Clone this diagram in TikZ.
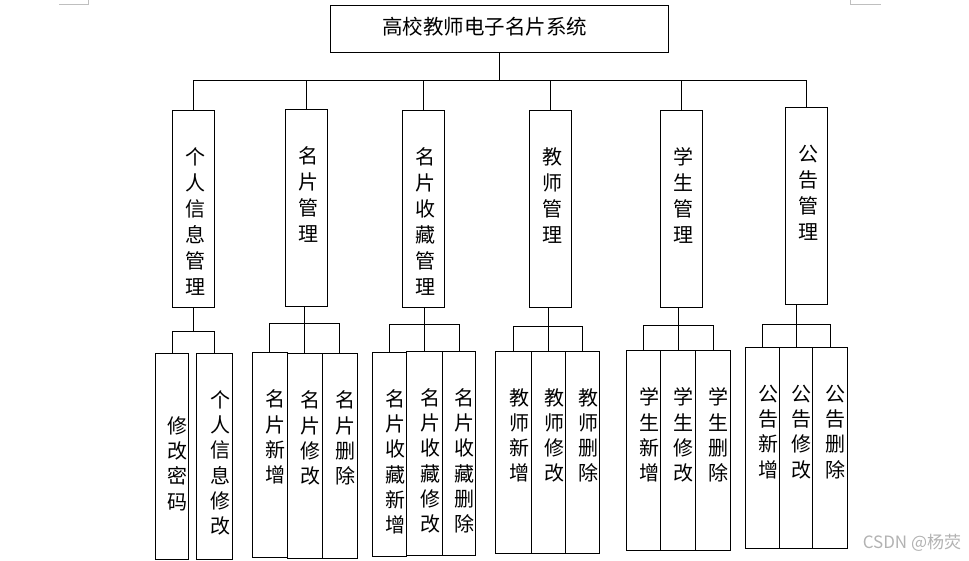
\documentclass[tikz,border=0pt]{standalone}
\usepackage{fontspec}
\newfontfamily\cjk{Noto Sans CJK SC}
\usetikzlibrary{positioning}

\begin{document}
\begin{tikzpicture}[x=1pt,y=-1pt,line width=1.1pt,
  mainbox/.style={draw, inner sep=0pt, anchor=north west, minimum width=42pt, minimum height=197pt},
  subbox/.style={draw, inner sep=0pt, anchor=north west, minimum width=35pt, minimum height=#1},
  vtext/.style={inner sep=0pt, align=center, xshift=2pt, font=\cjk\fontsize{20}{26}\selectfont},
  subtext/.style={inner sep=0pt, align=center, xshift=5.5pt, font=\cjk\fontsize{20}{25.3}\selectfont}]
\useasboundingbox (0,0) rectangle (969,560);

 % page corners
  \draw[line width=0.6pt, black!25] (59.30, 4.00) -- (88.70, 4.00) -- (88.70, 0.00);
  \draw[line width=0.6pt, black!25] (850.30, 0.00) -- (850.30, 4.30) -- (880.70, 4.30);

 % title
  \coordinate (T0) at (330.30, 5.30);
  \node[draw, inner sep=0pt, anchor=north west, minimum width=337.4pt, minimum height=47pt] (T) at (T0) {};
  \node[inner sep=0pt, font=\cjk\fontsize{20.5}{24}\selectfont] (T_1) at ([xshift=-15pt,yshift=2.8pt]T.center) {高校教师电子名片系统};

 % modules
  \coordinate (M1_0) at (172.30, 110.30);
  \coordinate (M2_0) at (285.30, 109.30);
  \coordinate (M3_0) at (402.30, 110.30);
  \coordinate (M4_0) at (529.30, 110.30);
  \coordinate (M5_0) at (660.30, 110.30);
  \coordinate (M6_0) at (785.30, 107.30);
  \node[mainbox] (M1) at (M1_0) {};
  \node[mainbox] (M2) at (M2_0) {};
  \node[mainbox] (M3) at (M3_0) {};
  \node[mainbox] (M4) at (M4_0) {};
  \node[mainbox] (M5) at (M5_0) {};
  \node[mainbox] (M6) at (M6_0) {};
  \node[vtext, below=37pt of M1.north] (M1T) {个\\人\\信\\息\\管\\理};
  \node[vtext, below=37pt of M2.north] (M2T) {名\\片\\管\\理};
  \node[vtext, below=37pt of M3.north] (M3T) {名\\片\\收\\藏\\管\\理};
  \node[vtext, below=37pt of M4.north] (M4T) {教\\师\\管\\理};
  \node[vtext, below=37pt of M5.north] (M5T) {学\\生\\管\\理};
  \node[vtext, below=37pt of M6.north] (M6T) {公\\告\\管\\理};

 % bus
  \coordinate (bus) at (499.00, 80.30);
  \draw (T.south) -- (T.south |- bus);
  \draw (M1.north |- bus) -- (M6.north |- bus);
  \draw (M1.north) -- (M1.north |- bus);
  \draw (M2.north) -- (M2.north |- bus);
  \draw (M3.north) -- (M3.north |- bus);
  \draw (M4.north) -- (M4.north |- bus);
  \draw (M5.north) -- (M5.north |- bus);
  \draw (M6.north) -- (M6.north |- bus);

 %M1
  \coordinate (M1A_0) at (155.30, 353.00);
  \coordinate (M1B_0) at (195.70, 353.00);
  \coordinate (G1bus) at (194.30, 331.30);
  \node[subbox=206pt, minimum width=33pt] (M1A) at (M1A_0) {};
  \node[subbox=206pt, minimum width=36.6pt] (M1B) at (M1B_0) {};
  \node[subtext, below=63pt of M1A.north] (M1AT) {修\\改\\密\\码};
  \node[subtext, below=37pt of M1B.north] (M1BT) {个\\人\\信\\息\\修\\改};
  \draw (M1.south) -- (M1.south |- G1bus);
  \draw (M1A.north |- G1bus) -- (M1B.north |- G1bus);
  \draw (M1A.north) -- (M1A.north |- G1bus);
  \draw (M1B.north) -- (M1B.north |- G1bus);

 %M2
  \coordinate (M2A_0) at (251.70, 352.30);
  \coordinate (M2B_0) at (286.70, 353.30);
  \coordinate (M2C_0) at (321.70, 353.30);
  \coordinate (G2bus) at (304.00, 323.30);
  \node[subbox=205pt] (M2A) at (M2A_0) {};
  \node[subbox=205pt] (M2B) at (M2B_0) {};
  \node[subbox=205pt] (M2C) at (M2C_0) {};
  \node[subtext, below=37pt of M2A.north] (M2AT) {名\\片\\新\\增};
  \node[subtext, below=37pt of M2B.north] (M2BT) {名\\片\\修\\改};
  \node[subtext, below=37pt of M2C.north] (M2CT) {名\\片\\删\\除};
  \draw (M2B.north) -- (M2B.north |- M2.south);
  \draw (M2A.north |- G2bus) -- (M2C.north |- G2bus);
  \draw (M2A.north) -- (M2A.north |- G2bus);
  \draw (M2C.north) -- (M2C.north |- G2bus);

 %M3
  \coordinate (M3A_0) at (371.70, 351.70);
  \coordinate (M3B_0) at (406.30, 350.70);
  \coordinate (M3C_0) at (441.70, 350.70);
  \coordinate (G3bus) at (424.00, 324.30);
  \node[subbox=204pt, minimum width=34.6pt] (M3A) at (M3A_0) {};
  \node[subbox=204pt, minimum width=35.4pt] (M3B) at (M3B_0) {};
  \node[subbox=204pt, minimum width=33.6pt] (M3C) at (M3C_0) {};
  \node[subtext, below=37pt of M3A.north] (M3AT) {名\\片\\收\\藏\\新\\增};
  \node[subtext, below=37pt of M3B.north] (M3BT) {名\\片\\收\\藏\\修\\改};
  \node[subtext, below=37pt of M3C.north] (M3CT) {名\\片\\收\\藏\\删\\除};
  \draw (M3B.north) -- (M3B.north |- M3.south);
  \draw (M3A.north |- G3bus) -- (M3C.north |- G3bus);
  \draw (M3A.north) -- (M3A.north |- G3bus);
  \draw (M3C.north) -- (M3C.north |- G3bus);

 %M4
  \coordinate (M4A_0) at (495.30, 350.70);
  \coordinate (M4B_0) at (530.70, 350.70);
  \coordinate (M4C_0) at (565.30, 350.70);
  \coordinate (G4bus) at (548.00, 326.30);
  \node[subbox=202pt, minimum width=35.4pt] (M4A) at (M4A_0) {};
  \node[subbox=202pt, minimum width=34.6pt] (M4B) at (M4B_0) {};
  \node[subbox=202pt, minimum width=34pt] (M4C) at (M4C_0) {};
  \node[subtext, below=37pt of M4A.north] (M4AT) {教\\师\\新\\增};
  \node[subtext, below=37pt of M4B.north] (M4BT) {教\\师\\修\\改};
  \node[subtext, below=37pt of M4C.north] (M4CT) {教\\师\\删\\除};
  \draw (M4B.north) -- (M4B.north |- M4.south);
  \draw (M4A.north |- G4bus) -- (M4C.north |- G4bus);
  \draw (M4A.north) -- (M4A.north |- G4bus);
  \draw (M4C.north) -- (M4C.north |- G4bus);

 %M5
  \coordinate (M5A_0) at (625.70, 350.30);
  \coordinate (M5B_0) at (660.30, 350.30);
  \coordinate (M5C_0) at (695.30, 350.30);
  \coordinate (G5bus) at (678.00, 325.30);
  \node[subbox=200pt, minimum width=34.6pt] (M5A) at (M5A_0) {};
  \node[subbox=200pt] (M5B) at (M5B_0) {};
  \node[subbox=200pt] (M5C) at (M5C_0) {};
  \node[subtext, below=37pt of M5A.north] (M5AT) {学\\生\\新\\增};
  \node[subtext, below=37pt of M5B.north] (M5BT) {学\\生\\修\\改};
  \node[subtext, below=37pt of M5C.north] (M5CT) {学\\生\\删\\除};
  \draw (M5B.north) -- (M5B.north |- M5.south);
  \draw (M5A.north |- G5bus) -- (M5C.north |- G5bus);
  \draw (M5A.north) -- (M5A.north |- G5bus);
  \draw (M5C.north) -- (M5C.north |- G5bus);

 %M6
  \coordinate (M6A_0) at (744.70, 347.30);
  \coordinate (M6B_0) at (779.30, 347.30);
  \coordinate (M6C_0) at (812.30, 347.30);
  \coordinate (G6bus) at (797.00, 324.30);
  \node[subbox=201pt, minimum width=34.6pt] (M6A) at (M6A_0) {};
  \node[subbox=201pt, minimum width=33pt] (M6B) at (M6B_0) {};
  \node[subbox=201pt] (M6C) at (M6C_0) {};
  \node[subtext, below=37pt of M6A.north] (M6AT) {公\\告\\新\\增};
  \node[subtext, below=37pt of M6B.north] (M6BT) {公\\告\\修\\改};
  \node[subtext, below=37pt of M6C.north] (M6CT) {公\\告\\删\\除};
  \draw (M6B.north) -- (M6B.north |- M6.south);
  \draw (M6A.north |- G6bus) -- (M6C.north |- G6bus);
  \draw (M6A.north) -- (M6A.north |- G6bus);
  \draw (M6C.north) -- (M6C.north |- G6bus);

 % mark
  \node[anchor=east, inner sep=0pt, text=black!30, font=\cjk\fontsize{17}{19}\selectfont] (W) at (961.70, 543.30) {CSDN @杨荧};
\end{tikzpicture}
\end{document}
